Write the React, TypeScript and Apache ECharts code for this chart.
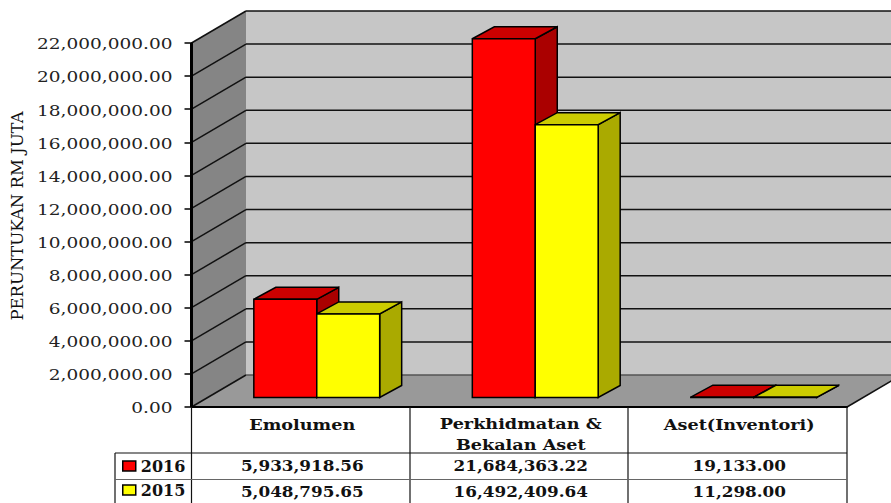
import React, { useEffect, useRef } from "react";
import * as echarts from "echarts";

const categories = ["Emolumen", "Perkhidmatan &\nBekalan Aset", "Aset(Inventori)"];
const series2016 = [5933918.56, 21684363.22, 19133.0];
const series2015 = [5048795.65, 16492409.64, 11298.0];
const yTicks = [0, 2e6, 4e6, 6e6, 8e6, 10e6, 12e6, 14e6, 16e6, 18e6, 20e6, 22e6];
const AXIS_NAME = "PERUNTUKAN RM JUTA";

const FONT = '"DejaVu Serif", serif';
const WALL_DX = 54.5, WALL_DY = -32;     // depth of the chart box
const PLANE_DX = 16, PLANE_DY = -9.5;    // plane of the bars within the box
const BAR_DX = 22, BAR_DY = -12;         // depth of one bar
const BAR_SHARE = 0.288;

const fmt = (v: number) =>
  v.toLocaleString("en-US", { minimumFractionDigits: 2, maximumFractionDigits: 2 });

const poly = (points: number[][], fill: string, stroke = "#000", lineWidth = 1.5) => ({
  type: "polygon",
  shape: { points },
  style: { fill, stroke, lineWidth, lineJoin: "miter" },
});
const seg = (a: number[], b: number[], stroke = "#000", lineWidth = 1.5) => ({
  type: "line",
  shape: { x1: a[0], y1: a[1], x2: b[0], y2: b[1] },
  style: { stroke, lineWidth, fill: "none" },
});

const wallsItem = (params: any) => {
  const r = params.coordSys;
  const l = r.x, rt = r.x + r.width, t = r.y, b = r.y + r.height;
  return {
    type: "group",
    children: [
      poly([[l + WALL_DX, t + WALL_DY], [rt + WALL_DX, t + WALL_DY], [rt + WALL_DX, b + WALL_DY], [l + WALL_DX, b + WALL_DY]], "#c6c6c6", "none", 0),
      poly([[l, t], [l + WALL_DX, t + WALL_DY], [l + WALL_DX, b + WALL_DY], [l, b]], "#858585", "none", 0),
      poly([[l, b], [l + WALL_DX, b + WALL_DY], [rt + WALL_DX, b + WALL_DY], [rt, b]], "#999999", "none", 0),
      seg([rt, b], [rt + WALL_DX, b + WALL_DY], "#111", 1.5),
    ],
  };
};

const gridItem = (params: any, api: any) => {
  const r = params.coordSys;
  const v = api.value(0);
  const y = api.coord([0, v])[1];
  return {
    type: "group",
    children: [
      seg([r.x, y], [r.x + WALL_DX, y + WALL_DY], "#111", 1.5),
      seg([r.x + WALL_DX, y + WALL_DY], [r.x + r.width + WALL_DX, y + WALL_DY], v === 0 ? "#555" : "#111", 1.5),
      seg([r.x, r.y], [r.x, r.y + r.height], "#000", 2),
      {
        type: "text",
        x: r.x - 19,
        y: y + 1,
        scaleX: 1.235,
        style: { text: fmt(v), font: `15px ${FONT}`, fill: "#222", textAlign: "right", textVerticalAlign: "middle" },
      },
    ],
  };
};

const barItem = (front: string, top: string, side: string, sign: number) => (_p: any, api: any) => {
  const p = api.coord([api.value(0), api.value(1)]);
  const base = api.coord([api.value(0), 0]);
  const w = api.size([1, 0])[0] * BAR_SHARE;
  const c = p[0] + PLANE_DX;
  const x0 = sign < 0 ? c - w : c;
  const x1 = x0 + w;
  const yt = p[1] + PLANE_DY;
  const yb = base[1] + PLANE_DY;
  const d = (q: number[]) => [q[0] + BAR_DX, q[1] + BAR_DY];
  return {
    type: "group",
    children: [
      poly([[x1, yt], d([x1, yt]), d([x1, yb]), [x1, yb]], side),
      poly([[x0, yt], d([x0, yt]), d([x1, yt]), [x1, yt]], top),
      poly([[x0, yt], [x1, yt], [x1, yb], [x0, yb]], front),
    ],
  };
};

const tableItem = (_p: any, api: any) => {
  const i = api.value(0);
  const x = api.coord([i, 0])[0] + 1.5;
  const centre = (text: string, y: number, scaleX: number) => ({
    type: "text",
    x,
    y,
    scaleX,
    style: { text, font: `bold 14px ${FONT}`, fill: "#111", textAlign: "center", textVerticalAlign: "middle", lineHeight: 21 },
  });
  return {
    type: "group",
    children: [
      centre(categories[i], categories[i].includes("\n") ? 435 : 425, 1.26),
      centre(fmt(series2016[i]), 466.5, 1.2),
      centre(fmt(series2015[i]), 492.5, 1.2),
    ],
  };
};

const tableLines = [
  [[191.5, 407], [191.5, 503]],
  [[410, 407], [410, 503]],
  [[628, 407], [628, 503]],
  [[847, 407], [847, 503]],
  [[115, 453], [847, 453]],
  [[115, 453], [115, 503]],
];

export default function App() {
  const ref = useRef<HTMLDivElement>(null);
  useEffect(() => {
    const chart = echarts.init(ref.current!, null, { renderer: "svg" });
    chart.setOption({
      animation: false,
      backgroundColor: "#fff",
      textStyle: { fontFamily: FONT },
      grid: { left: 191.5, top: 43, width: 655.5, height: 364, containLabel: false, outerBoundsMode: "none" },
      legend: {
        orient: "vertical",
        left: 122,
        top: 453,
        itemGap: 8,
        itemWidth: 13,
        itemHeight: 10,
        padding: [5, 0],
        icon: "rect",
        textStyle: { fontFamily: FONT, fontSize: 16, fontWeight: "bold", color: "#111" },
        data: [
          { name: "2016", itemStyle: { color: "#ff0000", borderColor: "#000", borderWidth: 1.5 } },
          { name: "2015", itemStyle: { color: "#ffff00", borderColor: "#000", borderWidth: 1.5 } },
        ],
      },
      xAxis: {
        type: "category",
        data: categories,
        axisLabel: { show: false },
        axisTick: { show: false },
        axisLine: { show: true, lineStyle: { color: "#000", width: 2 } },
        z: 10,
      },
      yAxis: {
        type: "value",
        min: 0,
        max: 22000000,
        interval: 2000000,
        name: AXIS_NAME,
        nameLocation: "middle",
        nameRotate: 90,
        nameGap: 166,
        nameTextStyle: { fontFamily: FONT, fontSize: 16.5, color: "#111", padding: [0, 0, 0, 18] },
        axisLabel: { show: false },
        axisLine: { show: true, onZero: false, lineStyle: { color: "#000", width: 2 } },
        axisTick: { show: true, length: 7, lineStyle: { color: "#000", width: 1.5 } },
        splitLine: { show: false },
        z: 10,
      },
      graphic: tableLines.map(([a, b], i) => ({
        type: "line",
        shape: { x1: a[0], y1: a[1], x2: b[0], y2: b[1] },
        style: { stroke: "#111", lineWidth: 1.2 },
        z: 20 + i,
      })).concat([{
        type: "line",
        shape: { x1: 115, y1: 479.5, x2: 847, y2: 479.5 },
        style: { stroke: "#666", lineWidth: 1.2 },
        z: 30,
      }] as any),
      series: [
        { type: "custom", name: "walls", data: [[0]], renderItem: wallsItem, silent: true, z: 1 },
        { type: "custom", name: "grid", data: yTicks.map((v) => [v]), encode: { y: 0 }, renderItem: gridItem, silent: true, z: 2 },
        {
          type: "custom", name: "2016", z: 3,
          itemStyle: { color: "#ff0000" },
          data: series2016.map((v, i) => [i, v]),
          renderItem: barItem("#ff0000", "#cc0000", "#aa0000", -1),
        },
        {
          type: "custom", name: "2015", z: 4,
          itemStyle: { color: "#ffff00" },
          data: series2015.map((v, i) => [i, v]),
          renderItem: barItem("#ffff00", "#cccc00", "#aaaa00", 1),
        },
        { type: "custom", name: "table", data: categories.map((_, i) => [i]), renderItem: tableItem, silent: true, z: 5 },
      ],
    });
    return () => chart.dispose();
  }, []);
  return <div ref={ref} style={{ position: "fixed", left: 0, top: 0, width: 891, height: 503 }} />;
}
